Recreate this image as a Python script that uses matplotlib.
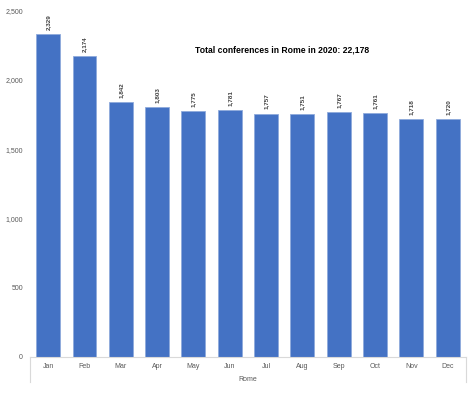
import matplotlib
matplotlib.use('Agg')
import matplotlib.pyplot as plt

# monthly conferences in Rome, 2020
months = ['Jan', 'Feb', 'Mar', 'Apr', 'May', 'Jun', 'Jul', 'Aug', 'Sep', 'Oct', 'Nov', 'Dec']
conferences = [2329, 2174, 1842, 1803, 1775, 1781, 1757, 1751, 1767, 1761, 1718, 1720]
yticks = [0, 500, 1000, 1500, 2000, 2500]
title = 'Total conferences in Rome in 2020: 22,178'

plt.rcParams['font.family'] = ['Liberation Sans', 'DejaVu Sans']

fig = plt.figure(figsize=(4.74, 3.97), dpi=100)
ax = fig.add_axes([0.0633, 0.1008, 0.9197, 0.8722])

x = range(len(months))
bars = ax.bar(x, conferences, width=0.66, color='#4472C4', edgecolor='#8FAADC', linewidth=0.6)

for xi, v in zip(x, conferences):
    ax.annotate(f'{v:,}', (xi, v), xytext=(0, 3), textcoords='offset points',
                rotation=90, ha='center', va='bottom', fontsize=4.5, fontweight='bold', color='#404040')

ax.set_xlim(-0.5, len(months) - 0.5)
ax.set_ylim(0, 2500)
ax.set_yticks(yticks)
ax.set_yticklabels([f'{t:,}' for t in yticks], fontsize=5, color='#595959')
ax.set_xticks(list(x))
ax.set_xticklabels(months, fontsize=5, color='#595959')
ax.tick_params(axis='both', length=0, pad=4)
ax.tick_params(axis='y', pad=5)
ax.set_xlabel('Rome', fontsize=5, color='#595959', labelpad=5)

for s in ['top', 'right', 'left']:
    ax.spines[s].set_visible(False)
ax.spines['bottom'].set_color('#D9D9D9')
ax.spines['bottom'].set_linewidth(0.8)

# category box edges below the axis
for xe in [0, 1]:
    ax.plot([xe, xe], [0, -0.072], transform=ax.transAxes, color='#D9D9D9',
            linewidth=0.8, clip_on=False)

ax.text(0.578, 0.887, title, transform=ax.transAxes, ha='center', va='center',
        fontsize=6.2, fontweight='bold', color='black')

fig.savefig('out.png', dpi=100)
